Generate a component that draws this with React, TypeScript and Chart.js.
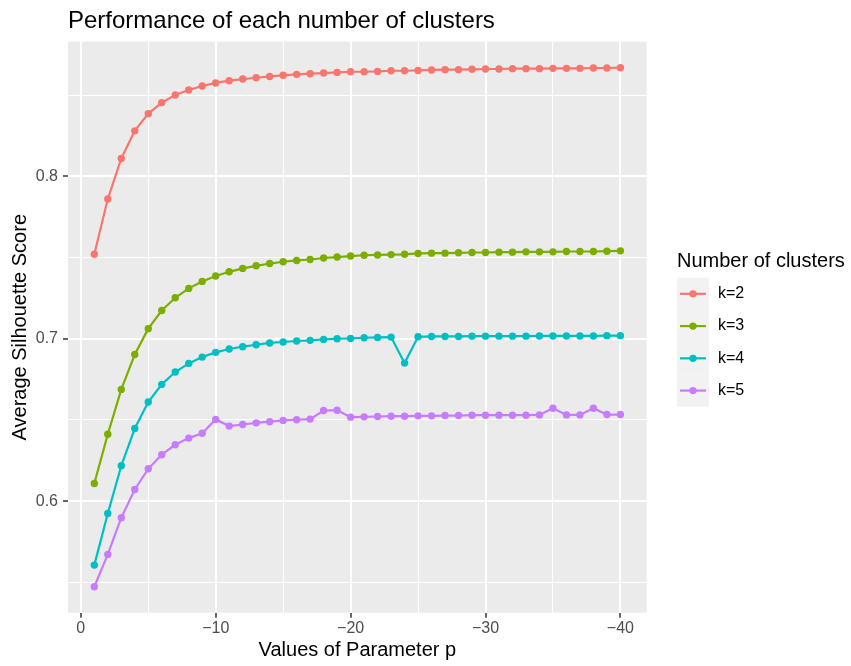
import React, { useEffect, useRef } from 'react';
import { Chart, registerables } from 'chart.js';

Chart.register(...registerables);

// Parameter p values (x axis)
const pValues = [
  -1, -2, -3, -4, -5, -6, -7, -8, -9, -10,
  -11, -12, -13, -14, -15, -16, -17, -18, -19, -20,
  -21, -22, -23, -24, -25, -26, -27, -28, -29, -30,
  -31, -32, -33, -34, -35, -36, -37, -38, -39, -40,
];

// Average silhouette score per number of clusters
const scoreK2 = [
  0.752, 0.786, 0.811, 0.828, 0.8386, 0.8454, 0.8501, 0.8532, 0.8556, 0.8575,
  0.8589, 0.8599, 0.8607, 0.8615, 0.8622, 0.8628, 0.8632, 0.8636, 0.864, 0.8644,
  0.8644, 0.8646, 0.865, 0.865, 0.8652, 0.8655, 0.8657, 0.8657, 0.8659, 0.8661,
  0.8661, 0.8663, 0.8663, 0.8663, 0.8665, 0.8665, 0.8665, 0.8667, 0.8667, 0.8669,
];
const scoreK3 = [
  0.6109, 0.6412, 0.6688, 0.6903, 0.7062, 0.7174, 0.7252, 0.731, 0.7353, 0.7386,
  0.7412, 0.7433, 0.7449, 0.7463, 0.7474, 0.7482, 0.7488, 0.7497, 0.7503, 0.7509,
  0.7514, 0.7516, 0.7518, 0.752, 0.7525, 0.7527, 0.7527, 0.7529, 0.7531, 0.7531,
  0.7533, 0.7533, 0.7535, 0.7535, 0.7535, 0.7537, 0.7537, 0.7537, 0.7539, 0.7541,
];
const scoreK4 = [
  0.5606, 0.5924, 0.6218, 0.6447, 0.661, 0.6719, 0.6795, 0.6848, 0.6887, 0.6916,
  0.6937, 0.6951, 0.6963, 0.6974, 0.698, 0.6986, 0.699, 0.6996, 0.7, 0.7002,
  0.7006, 0.7008, 0.701, 0.685, 0.7012, 0.7014, 0.7014, 0.7014, 0.7016, 0.7016,
  0.7016, 0.7016, 0.7016, 0.7017, 0.7017, 0.7017, 0.7017, 0.7017, 0.7019, 0.7019,
];
const scoreK5 = [
  0.5473, 0.5672, 0.5898, 0.6072, 0.6199, 0.6286, 0.6347, 0.6388, 0.6418, 0.6503,
  0.6462, 0.6472, 0.6482, 0.6489, 0.6497, 0.6501, 0.6505, 0.6558, 0.656, 0.6517,
  0.6519, 0.6521, 0.6523, 0.6523, 0.6525, 0.6525, 0.6527, 0.6527, 0.6529, 0.6529,
  0.6529, 0.6529, 0.6529, 0.6531, 0.6572, 0.6531, 0.6531, 0.6572, 0.6533, 0.6533,
];

const seriesNames = ['k=2', 'k=3', 'k=4', 'k=5'];
const seriesColors = ['#F8766D', '#7CAE00', '#00BFC4', '#C77CFF'];
const seriesValues = [scoreK2, scoreK3, scoreK4, scoreK5];

// Axis breaks and labels
const xMajorTicks = [0, -10, -20, -30, -40];
const xTickLabels = ['0', '\u221210', '\u221220', '\u221230', '\u221240'];
const xMinorTicks = [-5, -15, -25, -35];
const yMajorTicks = [0.6, 0.7, 0.8];
const yTickLabels = ['0.6', '0.7', '0.8'];
const yMinorTicks = [0.55, 0.65, 0.75, 0.85];

const titleText = 'Performance of each number of clusters';
const xTitleText = 'Values of Parameter p';
const yTitleText = 'Average Silhouette Score';
const legendTitleText = 'Number of clusters';

const FONT = '"Liberation Sans", Arial, Helvetica, sans-serif';
const PANEL_BG = '#EBEBEB';
const KEY_BG = '#F2F2F2';
const LINE_W = 2.2;
const POINT_R = 3.7;

const near = (a: number, b: number) => Math.abs(a - b) < 1e-9;
const majorIndex = (list: number[], v: number) => list.findIndex((t) => near(t, v));

const panelBackground = {
  id: 'panelBackground',
  beforeDraw(chart: any) {
    const { ctx, chartArea } = chart;
    ctx.save();
    ctx.fillStyle = PANEL_BG;
    ctx.fillRect(chartArea.left, chartArea.top, chartArea.right - chartArea.left, chartArea.bottom - chartArea.top);
    ctx.restore();
  },
};

const plotTitle = {
  id: 'plotTitle',
  afterDraw(chart: any) {
    const { ctx, chartArea } = chart;
    ctx.save();
    ctx.font = `24px ${FONT}`;
    ctx.fillStyle = '#000000';
    ctx.textAlign = 'left';
    ctx.textBaseline = 'alphabetic';
    ctx.fillText(titleText, chartArea.left, 27.5);
    ctx.restore();
  },
};

const clusterLegend = {
  id: 'clusterLegend',
  afterDraw(chart: any) {
    const { ctx } = chart;
    const left = 677;
    const keyW = 32;
    const keyH = 32.25;
    const top = 277.7;
    ctx.save();
    ctx.font = `20px ${FONT}`;
    ctx.fillStyle = '#000000';
    ctx.textAlign = 'left';
    ctx.textBaseline = 'alphabetic';
    ctx.fillText(legendTitleText, left, 266.5);
    chart.data.datasets.forEach((ds: any, i: number) => {
      const y0 = top + i * keyH;
      const cy = y0 + keyH / 2;
      ctx.fillStyle = KEY_BG;
      ctx.fillRect(left, y0, keyW, keyH);
      ctx.strokeStyle = ds.borderColor;
      ctx.lineWidth = LINE_W;
      ctx.beginPath();
      ctx.moveTo(left + 3, cy);
      ctx.lineTo(left + keyW - 3, cy);
      ctx.stroke();
      ctx.fillStyle = ds.backgroundColor;
      ctx.beginPath();
      ctx.arc(left + keyW / 2, cy, POINT_R, 0, Math.PI * 2);
      ctx.fill();
      ctx.fillStyle = '#000000';
      ctx.font = `16px ${FONT}`;
      ctx.textBaseline = 'middle';
      ctx.fillText(ds.label, left + 41, cy);
    });
    ctx.restore();
  },
};

export default function App() {
  const canvasRef = useRef<HTMLCanvasElement | null>(null);

  useEffect(() => {
    const canvas = canvasRef.current;
    if (!canvas) return;

    const datasets = seriesValues.map((vals, i) => ({
      label: seriesNames[i],
      data: vals.map((v, j) => ({ x: pValues[j], y: v })),
      borderColor: seriesColors[i],
      backgroundColor: seriesColors[i],
      borderWidth: LINE_W,
      pointRadius: POINT_R,
      pointBorderWidth: 0,
      pointHoverRadius: POINT_R,
      tension: 0,
      fill: false,
    }));

    const gridWidth = (list: number[]) => (ctx: any) =>
      ctx.tick && majorIndex(list, ctx.tick.value) >= 0 ? 2 : 1;
    const tickColor = (list: number[]) => (ctx: any) =>
      ctx.tick && majorIndex(list, ctx.tick.value) >= 0 ? '#333333' : 'rgba(0,0,0,0)';

    const chart = new Chart(canvas, {
      type: 'line',
      data: { datasets },
      plugins: [panelBackground, plotTitle, clusterLegend],
      options: {
        animation: false,
        responsive: false,
        devicePixelRatio: 1,
        layout: { padding: { top: 41.7, right: 851 - 646.7, left: 0, bottom: 0 } },
        plugins: {
          legend: { display: false },
          tooltip: { enabled: false },
          title: { display: false },
        },
        scales: {
          x: {
            type: 'linear',
            reverse: true,
            min: -41.95,
            max: 0.95,
            afterFit: (scale: any) => {
              scale.height = 666 - 612.7;
            },
            afterBuildTicks: (scale: any) => {
              scale.ticks = [...xMajorTicks, ...xMinorTicks].map((v) => ({ value: v }));
            },
            border: { display: false },
            grid: {
              color: '#FFFFFF',
              lineWidth: gridWidth(xMajorTicks),
              drawTicks: true,
              tickLength: 5,
              tickWidth: 1.5,
              tickColor: tickColor(xMajorTicks),
            },
            ticks: {
              autoSkip: false,
              maxRotation: 0,
              padding: 1,
              color: '#4D4D4D',
              font: { family: FONT, size: 16, lineHeight: 1.2 },
              callback: (value: any) => {
                const idx = majorIndex(xMajorTicks, Number(value));
                return idx >= 0 ? xTickLabels[idx] : '';
              },
            },
            title: {
              display: true,
              text: xTitleText,
              color: '#000000',
              font: { family: FONT, size: 20, lineHeight: 1.2 },
              padding: { top: 0, bottom: 4 },
            },
          },
          y: {
            type: 'linear',
            min: 0.5313,
            max: 0.8829,
            afterFit: (scale: any) => {
              scale.width = 68;
            },
            afterBuildTicks: (scale: any) => {
              scale.ticks = [...yMajorTicks, ...yMinorTicks].map((v) => ({ value: v }));
            },
            border: { display: false },
            grid: {
              color: '#FFFFFF',
              lineWidth: gridWidth(yMajorTicks),
              drawTicks: true,
              tickLength: 5,
              tickWidth: 1.5,
              tickColor: tickColor(yMajorTicks),
            },
            ticks: {
              autoSkip: false,
              padding: 5,
              color: '#4D4D4D',
              font: { family: FONT, size: 16, lineHeight: 1.2 },
              callback: (value: any) => {
                const idx = majorIndex(yMajorTicks, Number(value));
                return idx >= 0 ? yTickLabels[idx] : '';
              },
            },
            title: {
              display: true,
              text: yTitleText,
              color: '#000000',
              font: { family: FONT, size: 20, lineHeight: 1.2 },
              padding: { top: 8, bottom: 0 },
            },
          },
        },
      } as any,
    });

    return () => chart.destroy();
  }, []);

  return (
    <div style={{ position: 'absolute', left: 0, top: 0, width: 851, height: 666, background: '#FFFFFF' }}>
      <canvas ref={canvasRef} width={851} height={666} style={{ display: 'block' }} />
    </div>
  );
}
